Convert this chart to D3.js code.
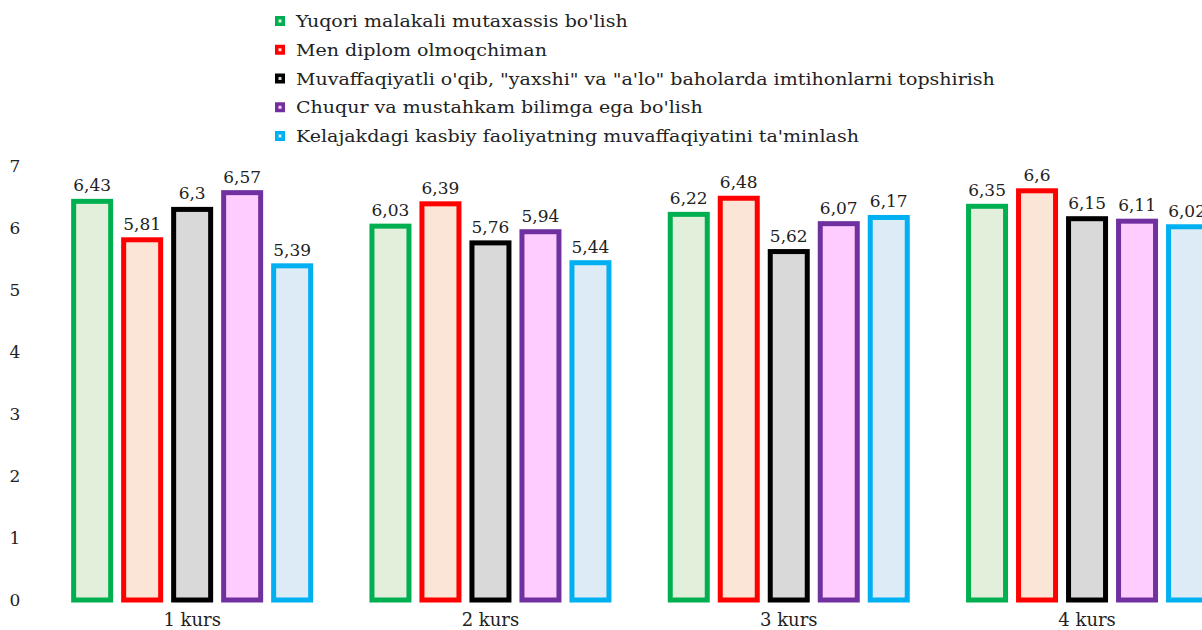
<!DOCTYPE html>
<html>
<head>
<meta charset="utf-8">
<script src="https://cdn.jsdelivr.net/npm/d3@7"></script>
<style>
html,body{margin:0;padding:0;background:#fff;}
svg{display:block;}
</style>
</head>
<body>
<svg id="chart" width="1202" height="630"></svg>
<script>
const categories = ["1 kurs", "2 kurs", "3 kurs", "4 kurs"];
const seriesNames = [
  "Yuqori malakali mutaxassis bo'lish",
  "Men diplom olmoqchiman",
  "Muvaffaqiyatli o'qib, \"yaxshi\" va \"a'lo\" baholarda imtihonlarni topshirish",
  "Chuqur va mustahkam bilimga ega bo'lish",
  "Kelajakdagi kasbiy faoliyatning muvaffaqiyatini ta'minlash"
];
const s1 = [6.43, 6.03, 6.22, 6.35];
const s2 = [5.81, 6.39, 6.48, 6.6];
const s3 = [6.3, 5.76, 5.62, 6.15];
const s4 = [6.57, 5.94, 6.07, 6.11];
const s5 = [5.39, 5.44, 6.17, 6.02];
const seriesValues = [s1, s2, s3, s4, s5];
const yTicks = [0, 1, 2, 3, 4, 5, 6, 7];
const strokeColors = ["#00b050", "#ff0000", "#000000", "#7030a0", "#00b0f0"];
const fillColors = ["#e2efda", "#fbe5d6", "#d9d9d9", "#ffccff", "#ddebf7"];

const FONT = "'DejaVu Serif', serif";
const svg = d3.select("#chart");

const x0 = d3.scaleBand().domain(categories).range([43, 43 + 4 * 298.3]).padding(0);
const x1 = d3.scaleBand().domain(d3.range(seriesNames.length)).range([-125, 125]).paddingInner(0.26).paddingOuter(0.13);
const y = d3.scaleLinear().domain([0, 7]).range([600, 166]);

function stretchedText(sel, x, yy, anchor, sx) {
  sel.attr("transform", `translate(${x},${yy}) scale(${sx},1)`)
    .attr("text-anchor", anchor)
    .style("font-family", FONT)
    .attr("fill", "#222");
  return sel;
}

// y tick labels
const yAxis = svg.append("g");
yTicks.forEach(t => {
  stretchedText(yAxis.append("text"), 15, y(t) + 6, "middle", 1)
    .attr("font-size", 17).text(t);
});

// bars
const groups = svg.append("g").selectAll("g").data(categories).join("g")
  .attr("transform", c => `translate(${x0(c) + x0.bandwidth() / 2},0)`);

groups.each(function (c, ci) {
  const g = d3.select(this);
  seriesValues.forEach((vals, si) => {
    const v = vals[ci];
    g.append("rect")
      .attr("x", x1(si))
      .attr("y", y(v))
      .attr("width", x1.bandwidth())
      .attr("height", y(0) - y(v))
      .attr("fill", fillColors[si])
      .attr("stroke", strokeColors[si])
      .attr("stroke-width", 5);
    stretchedText(g.append("text"), x1(si) + x1.bandwidth() / 2, y(v) - 10, "middle", 1)
      .attr("font-size", 17)
      .text(String(v).replace(".", ","));
  });
  stretchedText(g.append("text"), 0, 626, "middle", 1).attr("font-size", 18).text(c);
});

// legend
const legend = svg.append("g");
seriesNames.forEach((name, i) => {
  const cy = 21 + i * 28.75;
  legend.append("rect").attr("x", 275).attr("y", cy - 5).attr("width", 10).attr("height", 10)
    .attr("fill", strokeColors[i]);
  legend.append("rect").attr("x", 278.5).attr("y", cy - 1.5).attr("width", 3).attr("height", 3)
    .attr("fill", fillColors[i]);
  stretchedText(legend.append("text"), 296, cy + 6, "start", 1.12).attr("font-size", 17).text(name);
});
</script>
</body>
</html>
